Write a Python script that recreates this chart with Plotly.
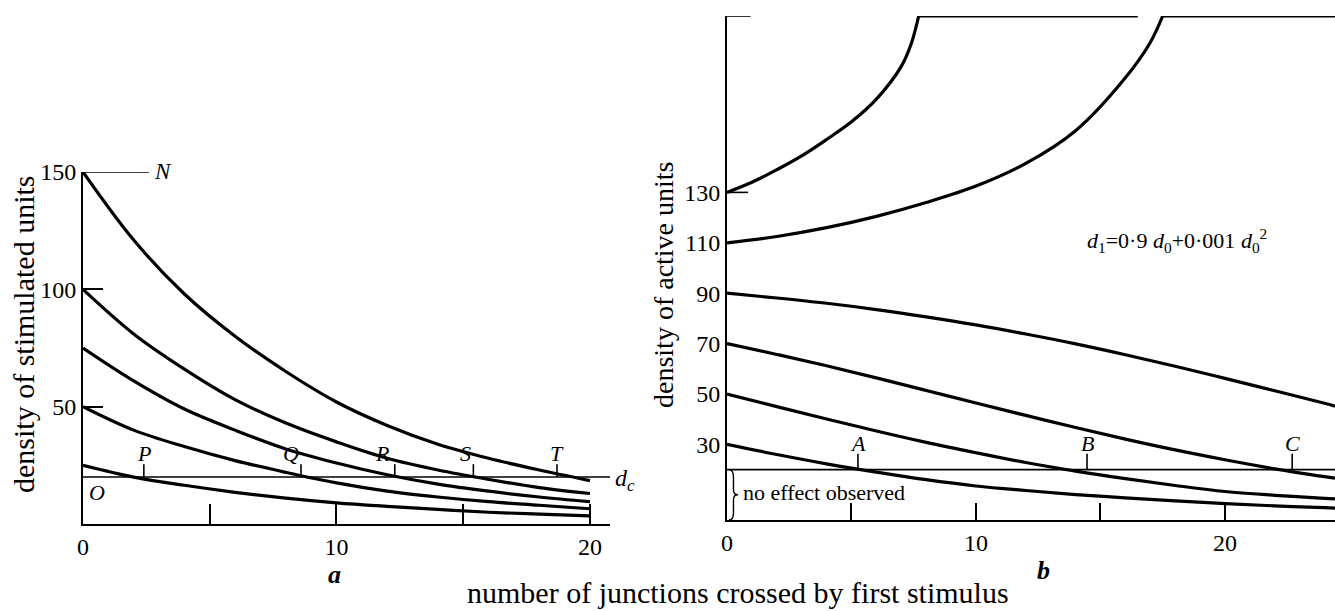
import plotly.graph_objects as go

# ---------------- data: panel a ----------------
A_X = [0, 2, 4, 6, 8, 10, 12, 14, 16, 18, 20]
A_150 = [150, 121, 98, 80, 65, 52, 42, 34, 28, 23, 18.5]
A_100 = [100, 81, 66, 53, 43, 35, 28, 23, 19, 15.5, 13]
A_75 = [75, 61, 49, 40, 32, 26, 21, 17, 14, 11.5, 9.5]
A_50 = [50, 40, 33, 27, 22, 17.5, 14, 11.5, 9.5, 8, 6.5]
A_25 = [25, 20, 16.5, 13.5, 11, 9, 7.5, 6.2, 5, 4.2, 3.5]
A_DC = 20
A_CROSS_X = [2.4, 8.6, 12.3, 15.4, 18.7]
A_CROSS_LBL = ["P", "Q", "R", "S", "T"]
A_LBL_SHIFT = [0, -10, -12, -8, 0]
A_XTICKS = [0, 5, 10, 15, 20]
A_XTEXT = ["0", "", "10", "", "20"]
A_YTICKS = [50, 100, 150]

# ---------------- data: panel b ----------------
B_X = [0, 2, 4, 6, 8, 10, 12, 14, 16, 18, 20, 22, 24, 24.42]
B_90 = [90, 88.1, 86.0, 83.5, 80.6, 77.4, 73.8, 69.9, 65.6, 61.0, 56.2, 51.3, 46.3, 45.2]
B_70 = [70, 65.7, 61.2, 56.4, 51.4, 46.4, 41.5, 36.7, 32.1, 27.8, 23.9, 20.3, 17.2, 16.6]
B_50 = [50, 45.0, 40.1, 35.3, 30.8, 26.7, 22.8, 19.4, 16.4, 13.7, 11.3, 9.8, 8.6, 8.4]
B_30 = [30, 26.0, 22.3, 19.0, 16.0, 13.5, 11.7, 10.1, 8.8, 7.6, 6.5, 5.6, 4.9, 4.7]
B130_X = [0, 1, 2, 3, 4, 5, 6, 7, 7.4, 7.7]
B_130 = [130, 134, 139, 144.5, 151, 158, 167, 180, 189, 200]
B110_X = [0, 2, 4, 6, 8, 10, 12, 14, 16, 17, 17.5]
B_110 = [110, 112.5, 116, 120.5, 126, 132.5, 141.5, 154.5, 175.5, 189.5, 200]
B_SAT = 200
B_SAT_SEGMENTS = [(7.7, 16.5), (17.5, 24.42)]
B_DC = 20
B_CROSS_X = [5.26, 14.46, 22.7]
B_CROSS_LBL = ["A", "B", "C"]
B_XTICKS = [0, 5, 10, 15, 20]
B_XTEXT = ["0", "", "10", "", "20"]
B_YTICKS = [30, 50, 70, 90, 110, 130]

W, H = 1335, 611
SERIF = "Liberation Serif, Times New Roman, serif"
LW = 3.2

fig = go.Figure()

def curve(x, y, xa, ya, shape="spline"):
    fig.add_trace(go.Scatter(x=x, y=y, mode="lines", xaxis=xa, yaxis=ya,
                             line=dict(color="black", width=LW, shape=shape,
                                       smoothing=1.0 if shape == "spline" else None),
                             cliponaxis=False, hoverinfo="skip"))

for ys in [A_150, A_100, A_75, A_50, A_25]:
    curve(A_X, ys, "x", "y")

for ys in [B_90, B_70, B_50, B_30]:
    curve(B_X, ys, "x2", "y2")
curve(B130_X, B_130, "x2", "y2")
curve(B110_X, B_110, "x2", "y2")
for (s, e) in B_SAT_SEGMENTS:
    curve([s, e], [B_SAT, B_SAT], "x2", "y2", shape="linear")

A_XMAX = 20.79
B_XMAX = 24.42

shapes = []
thin = dict(color="black", width=1.6)
# panel a decorations
shapes.append(dict(type="line", xref="x", yref="y", x0=0, x1=2.6, y0=150, y1=150, line=thin))
shapes.append(dict(type="line", xref="x", yref="y", x0=0, x1=A_XMAX, y0=A_DC, y1=A_DC, line=thin))
shapes.append(dict(type="line", xref="x", yref="y", x0=20, x1=20, y0=0, y1=A_50[-1], line=dict(color="black", width=2)))
for cx in A_CROSS_X:
    shapes.append(dict(type="line", xref="x", yref="y", x0=cx, x1=cx, y0=A_DC, y1=A_DC + 5.5, line=thin))
# panel b decorations
shapes.append(dict(type="line", xref="x2", yref="y2", x0=0, x1=B_XMAX, y0=B_DC, y1=B_DC, line=thin))
shapes.append(dict(type="line", xref="x2", yref="y2", x0=0, x1=0.95, y0=B_SAT, y1=B_SAT, line=thin))
shapes.append(dict(type="line", xref="x2", yref="y2", x0=0, x1=0.85, y0=130, y1=130, line=thin))
for cx in B_CROSS_X:
    shapes.append(dict(type="line", xref="x2", yref="y2", x0=cx, x1=cx, y0=B_DC, y1=B_DC + 6.3, line=thin))
x0, xm, xt = 0.08, 0.26, 0.44
d = B_DC
brace = (f"M {x0},{d} Q {xm},{d} {xm},{d-3} L {xm},{d/2+2} Q {xm},{d/2} {xt},{d/2} "
         f"Q {xm},{d/2} {xm},{d/2-2} L {xm},3 Q {xm},0 {x0},0")
shapes.append(dict(type="path", xref="x2", yref="y2", path=brace, line=dict(color="black", width=1.4)))

ann = []
def text(x, y, t, size=22, xref="paper", yref="paper", xa="center", ya="middle", xs=0, ys=0, angle=0):
    ann.append(dict(x=x, y=y, text=t, xref=xref, yref=yref, xanchor=xa, yanchor=ya,
                    xshift=xs, yshift=ys, showarrow=False, textangle=angle,
                    font=dict(family=SERIF, size=size, color="black")))

text(2.6, 150, "<i>N</i>", 23, "x", "y", xa="left", xs=3)
text(0.15, A_DC, "<i>O</i>", 22, "x", "y", xa="left", ya="top", ys=-1)
text(A_XMAX, A_DC, "<i>d<sub>c</sub></i>", 24, "x", "y", xa="left", xs=3, ys=-3)
for cx, lb, sh in zip(A_CROSS_X, A_CROSS_LBL, A_LBL_SHIFT):
    text(cx, A_DC + 5.5, f"<i>{lb}</i>", 22, "x", "y", ya="bottom", xs=sh, ys=-4)
for cx, lb in zip(B_CROSS_X, B_CROSS_LBL):
    text(cx, B_DC + 6.3, f"<i>{lb}</i>", 22, "x2", "y2", ya="bottom", ys=-4)
text(0.55, B_DC / 2, "no effect observed", 22, "x2", "y2", xa="left", ys=2)
text(1177 / W, (H - 240) / H,
     "<i>d</i><sub>1</sub>=0·9 <i>d</i><sub>0</sub>+0·001 <i>d</i><sub>0</sub><sup>2</sup>", 22)
text(334 / W, (H - 574) / H, "<b><i>a</i></b>", 26)
text(1043 / W, (H - 570) / H, "<b><i>b</i></b>", 26)
text(738 / W, (H - 592) / H, "number of junctions crossed by first stimulus", 30)
text(23 / W, (H - 335) / H, "density of stimulated units", 30, angle=-90)
text(663 / W, (H - 285) / H, "density of active units", 28, angle=-90)

axcommon = dict(showgrid=False, zeroline=False, showline=True, linecolor="black", linewidth=2,
                tickcolor="black", tickwidth=1.6, automargin=False,
                tickfont=dict(family=SERIF, size=24, color="black"))

fig.update_layout(
    width=W, height=H, margin=dict(l=0, r=0, t=0, b=0, autoexpand=False),
    paper_bgcolor="white", plot_bgcolor="white", showlegend=False,
    xaxis=dict(domain=[83 / W, 610 / W], range=[0, A_XMAX], anchor="y",
               tickmode="array", tickvals=A_XTICKS, ticktext=A_XTEXT,
               ticks="inside", ticklen=20, **axcommon),
    yaxis=dict(domain=[(H - 524) / H, (H - 172) / H], range=[0, 150], anchor="x",
               tickmode="array", tickvals=A_YTICKS, ticks="inside", ticklen=20, **axcommon),
    xaxis2=dict(domain=[727 / W, 1.0], range=[0, B_XMAX], anchor="y2",
                tickmode="array", tickvals=B_XTICKS, ticktext=B_XTEXT,
                ticks="inside", ticklen=17, **axcommon),
    yaxis2=dict(domain=[(H - 520) / H, (H - 16) / H], range=[0, 200], anchor="x2",
                tickmode="array", tickvals=B_YTICKS, ticks="", **axcommon),
    shapes=shapes, annotations=ann,
)

fig.write_html("out.html")
